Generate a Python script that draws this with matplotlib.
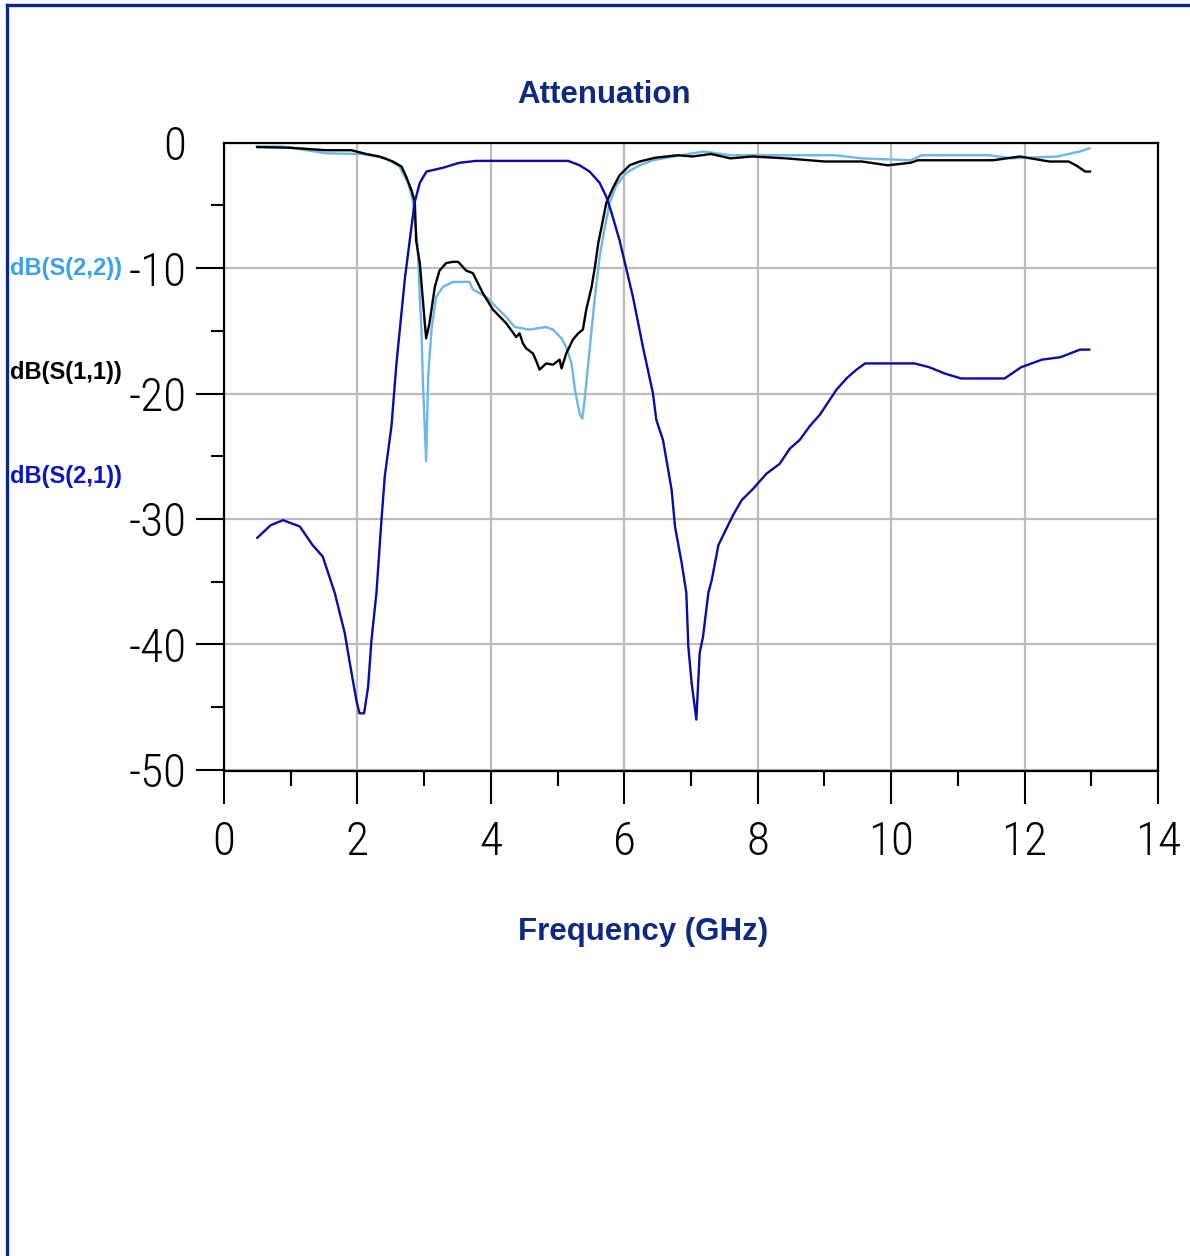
import numpy as np
import matplotlib
matplotlib.use("Agg")
import matplotlib.pyplot as plt
from matplotlib.lines import Line2D
from matplotlib.ticker import MultipleLocator

# ---------- данные ----------
s21_f = [0.50, 0.70, 0.885, 1.135, 1.33, 1.48, 1.66, 1.81, 1.86, 1.985, 2.03, 2.10,
         2.16, 2.21, 2.285, 2.36, 2.41, 2.51, 2.585, 2.71, 2.81, 2.86, 2.935, 3.035,
         3.28, 3.53, 3.78, 5.16, 5.33, 5.48, 5.63, 5.73, 5.81, 5.93, 6.01, 6.13,
         6.28, 6.43, 6.48, 6.58, 6.71, 6.76, 6.86, 6.93, 6.96, 7.01, 7.08, 7.13,
         7.18, 7.26, 7.31, 7.41, 7.51, 7.63, 7.76, 7.93, 8.13, 8.33, 8.48, 8.63,
         8.78, 8.93, 9.08, 9.18, 9.33, 9.48, 9.61, 10.35, 10.57, 10.8, 11.05, 11.7,
         11.95, 12.26, 12.54, 12.83, 12.97]
s21_db = [-31.5, -30.5, -30.1, -30.6, -32.1, -33.0, -35.9, -39.1, -40.7, -44.5, -45.5, -45.5,
          -43.4, -39.7, -35.9, -30.1, -26.6, -22.6, -17.6, -10.9, -6.7, -4.7, -3.2, -2.3,
          -2.0, -1.6, -1.45, -1.45, -1.8, -2.3, -3.2, -4.3, -5.6, -7.8, -9.6, -12.3,
          -16.3, -20.0, -22.1, -23.7, -27.7, -30.6, -33.5, -35.9, -40.2, -43.1, -46.0, -40.7,
          -39.4, -35.9, -34.9, -32.1, -31.0, -29.7, -28.5, -27.6, -26.4, -25.6, -24.4, -23.7,
          -22.6, -21.7, -20.5, -19.7, -18.8, -18.1, -17.6, -17.6, -17.9, -18.4, -18.8, -18.8,
          -17.9, -17.3, -17.1, -16.5, -16.5]

s11_f = [0.50, 0.98, 1.53, 1.91, 2.13, 2.33, 2.53, 2.66, 2.73, 2.81, 2.86, 2.88,
         2.935, 2.96, 3.01, 3.03, 3.08, 3.16, 3.23, 3.33, 3.43, 3.51, 3.63, 3.73,
         3.88, 4.03, 4.23, 4.38, 4.43, 4.48, 4.53, 4.63, 4.68, 4.73, 4.83, 4.93,
         5.03, 5.06, 5.13, 5.23, 5.31, 5.38, 5.43, 5.51, 5.56, 5.61, 5.66, 5.73,
         5.83, 5.93, 6.08, 6.23, 6.46, 6.8, 7.02, 7.3, 7.59, 7.92, 8.43, 9.0,
         9.56, 9.95, 10.29, 10.4, 10.97, 11.53, 11.93, 12.37, 12.66, 12.77, 12.91, 12.98]
s11_db = [-0.35, -0.4, -0.6, -0.6, -0.9, -1.1, -1.5, -1.9, -2.7, -3.8, -4.7, -7.8,
          -9.6, -11.2, -14.4, -15.6, -14.4, -11.5, -10.2, -9.6, -9.5, -9.5, -10.2, -10.4,
          -12.0, -13.3, -14.4, -15.5, -15.2, -16.0, -16.4, -16.8, -17.4, -18.1, -17.6, -17.7,
          -17.3, -18.0, -16.8, -15.7, -15.2, -14.9, -13.3, -11.5, -9.9, -8.0, -6.7, -4.8,
          -3.6, -2.6, -1.8, -1.5, -1.2, -1.0, -1.1, -0.9, -1.25, -1.1, -1.25, -1.5,
          -1.5, -1.8, -1.6, -1.4, -1.4, -1.4, -1.1, -1.5, -1.5, -1.8, -2.3, -2.3]

s22_f = [0.49, 0.88, 1.54, 2.08, 2.43, 2.63, 2.76, 2.83, 2.88, 2.91, 2.935, 2.96,
         2.98, 3.03, 3.06, 3.11, 3.18, 3.28, 3.43, 3.68, 3.73, 3.83, 3.93, 4.08,
         4.23, 4.36, 4.58, 4.83, 4.93, 5.06, 5.13, 5.21, 5.26, 5.33, 5.37, 5.41,
         5.46, 5.51, 5.56, 5.63, 5.71, 5.78, 5.88, 6.03, 6.23, 6.43, 6.74, 7.19,
         7.59, 8.15, 9.16, 9.56, 10.29, 10.46, 11.47, 11.81, 12.49, 12.83, 12.97]
s22_db = [-0.3, -0.3, -0.85, -0.9, -1.25, -1.9, -3.2, -4.6, -7.0, -9.1, -12.3, -14.9,
          -18.9, -25.4, -18.7, -14.9, -12.3, -11.5, -11.1, -11.1, -11.7, -12.0, -12.3, -13.1,
          -13.9, -14.7, -14.9, -14.7, -14.9, -15.6, -16.3, -17.6, -19.7, -21.6, -22.0, -20.3,
          -17.6, -14.9, -12.3, -9.1, -6.7, -4.8, -3.4, -2.4, -1.8, -1.4, -1.1, -0.7,
          -1.0, -1.0, -1.0, -1.25, -1.4, -1.0, -1.0, -1.25, -1.1, -0.7, -0.45]

x_ticks = [0, 2, 4, 6, 8, 10, 12, 14]
y_ticks = [0, -10, -20, -30, -40, -50]

navy = '#0c2a84'
c_s21 = '#0b0ba6'
c_s22 = '#6cb6e8'

plt.rcParams['font.family'] = ['Liberation Sans', 'DejaVu Sans']
plt.rcParams['axes.unicode_minus'] = False

fig = plt.figure(figsize=(11.9, 12.56), dpi=100)
ax = fig.add_axes([224 / 1190, 485 / 1256, 934 / 1190, 628.3 / 1256])

ax.plot(s22_f, s22_db, color=c_s22, lw=1.7, zorder=3)
ax.plot(s11_f, s11_db, color='black', lw=1.7, zorder=4)
ax.plot(s21_f, s21_db, color=c_s21, lw=1.7, zorder=5)

ax.set_xlim(0, 14)
ax.set_ylim(-50.1, 0)
ax.set_xticks(x_ticks)
ax.set_yticks(y_ticks)
ax.xaxis.set_minor_locator(MultipleLocator(1))
ax.yaxis.set_minor_locator(MultipleLocator(5))
ax.grid(True, which='major', color='#bdbdbd', lw=1.6)
ax.set_axisbelow(True)

for sp in ax.spines.values():
    sp.set_linewidth(1.6)

ax.tick_params(axis='x', which='major', length=24, width=1.5, pad=11)
ax.tick_params(axis='x', which='minor', length=11, width=1.5)
ax.tick_params(axis='y', which='major', length=20, width=1.5, pad=7)
ax.tick_params(axis='y', which='minor', length=9.5, width=1.5)
for lab in ax.get_xticklabels() + ax.get_yticklabels():
    lab.set_fontfamily(['Roboto Condensed', 'DejaVu Sans'])
    lab.set_fontstretch('condensed')
    lab.set_fontweight('light')
    lab.set_fontsize(34)
# у нуля засечки нет
ax.yaxis.get_major_ticks()[0].tick1line.set_visible(False)

# ---------- подписи ----------
fig.text(604 / 1190, 1 - 95 / 1256, 'Attenuation', ha='center', va='center',
         fontsize=22.5, fontweight='bold', color=navy)
fig.text(643 / 1190, 1 - 932 / 1256, 'Frequency (GHz)', ha='center', va='center',
         fontsize=22.5, fontweight='bold', color=navy)

fig.text(10 / 1190, 1 - 268 / 1256, 'dB(S(2,2))', ha='left', va='center',
         fontsize=17, fontweight='bold', color='#3aa0f0')
fig.text(10 / 1190, 1 - 372 / 1256, 'dB(S(1,1))', ha='left', va='center',
         fontsize=17, fontweight='bold', color='black')
fig.text(10 / 1190, 1 - 477 / 1256, 'dB(S(2,1))', ha='left', va='center',
         fontsize=17, fontweight='bold', color='#0a14c8')

# рамка слева и сверху
fig.add_artist(Line2D([6.5 / 1190, 6.5 / 1190], [0, 1 - 4.5 / 1256],
                      transform=fig.transFigure, color=navy, lw=2.4))
fig.add_artist(Line2D([6.5 / 1190, 1], [1 - 4.5 / 1256, 1 - 4.5 / 1256],
                      transform=fig.transFigure, color=navy, lw=2.4))

fig.savefig('out.png', dpi=100)
